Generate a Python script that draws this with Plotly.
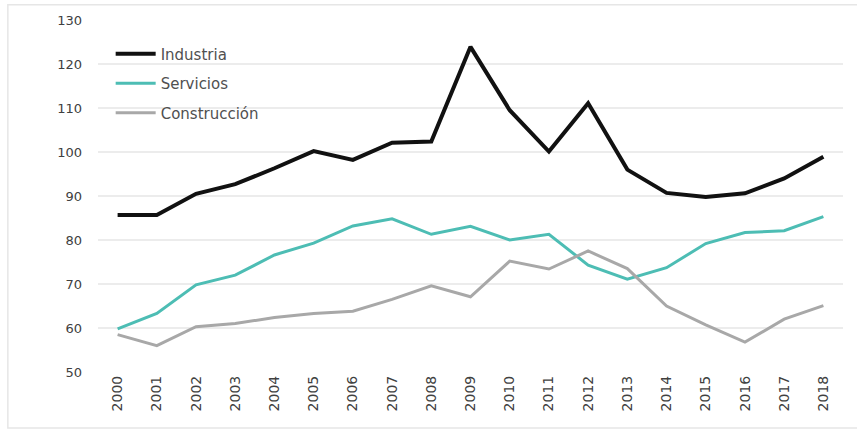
import plotly.graph_objects as go

years = [str(y) for y in range(2000, 2019)]
industria = [85.7, 85.7, 90.5, 92.7, 96.3, 100.2, 98.2, 102.1, 102.4, 123.9, 109.5, 100.1, 111.1, 96.0, 90.7, 89.8, 90.6, 94.0, 98.9]
servicios = [59.8, 63.3, 69.8, 72.0, 76.6, 79.3, 83.2, 84.8, 81.3, 83.1, 80.0, 81.3, 74.3, 71.1, 73.7, 79.2, 81.7, 82.1, 85.3]
construccion = [58.5, 56.0, 60.3, 61.0, 62.4, 63.3, 63.8, 66.5, 69.6, 67.1, 75.2, 73.4, 77.5, 73.5, 65.0, 60.7, 56.8, 62.0, 65.1]
yticks = [50, 60, 70, 80, 90, 100, 110, 120, 130]

series = [
    ("Industria", industria, "#111111", 4),
    ("Servicios", servicios, "#4dbdb4", 3),
    ("Construcción", construccion, "#a8a8a8", 3),
]

fig = go.Figure()
for name, vals, color, w in series:
    fig.add_trace(go.Scatter(x=years, y=vals, mode="lines", name=name,
                             legendgroup=name,
                             line=dict(color=color, width=w)))

fig.update_layout(
    width=857, height=432,
    margin=dict(l=98, r=14, t=20, b=60),
    paper_bgcolor="white", plot_bgcolor="white",
    font=dict(family="'DejaVu Sans', sans-serif", size=13, color="#505050"),
    showlegend=True,
    legend=dict(x=0.017, y=0.95, xanchor="left", yanchor="top",
                bgcolor="rgba(0,0,0,0)", font=dict(size=15, color="#505050"),
                itemwidth=40, tracegroupgap=7),
    xaxis=dict(type="category", range=[-0.5, 18.5], tickangle=-90,
               showgrid=False, showline=False, ticks="",
               tickfont=dict(size=14, color="#404040")),
    yaxis=dict(range=[50, 130], tickvals=yticks, showgrid=True,
               gridcolor="#ececec", gridwidth=1.5, zeroline=False,
               ticks="", ticklabelstandoff=15,
               tickfont=dict(size=13, color="#404040")),
    shapes=[dict(type="rect", xref="paper", yref="paper",
                 x0=-0.121, x1=1.06, y0=-0.159, y1=1.043,
                 line=dict(color="#e6e6e6", width=1.5), layer="below")],
)

fig.write_html("out.html")
